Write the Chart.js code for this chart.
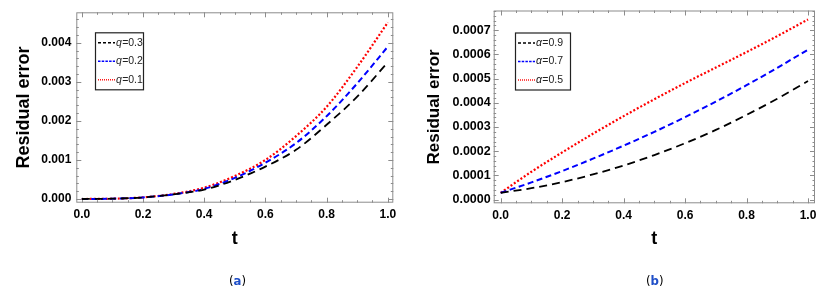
<!DOCTYPE html>
<html>
<head>
<meta charset="utf-8">
<script src="https://cdn.jsdelivr.net/npm/chart.js@4.4.0/dist/chart.umd.min.js"></script>
<style>
  body { margin: 0; background: #fff; width: 833px; height: 292px; overflow: hidden; position: relative; }
  .panel { position: absolute; top: 0; height: 292px; }
  .cap { position: absolute; top: 273px; font: 13px "DejaVu Sans Condensed", "DejaVu Sans", sans-serif; color: #000; }
  .cap b { color: #1f4fc8; }
</style>
</head>
<body>
<div class="panel" style="left:0;width:415px"><canvas id="chartA" width="415" height="292"></canvas></div>
<div class="panel" style="left:415px;width:418px"><canvas id="chartB" width="418" height="292"></canvas></div>
<div class="cap" style="left:229px">(<b>a</b>)</div>
<div class="cap" style="left:646px">(<b>b</b>)</div>
<script>
// time grid used in both panels
const tValues = [0, 0.1, 0.2, 0.3, 0.4, 0.5, 0.6, 0.7, 0.8, 0.9, 1.0];

// panel (a): residual error for different q
const labelsA = ['q=0.3', 'q=0.2', 'q=0.1'];
const errQ03 = [0, 0.000008, 0.00004, 0.00012, 0.00024, 0.00049, 0.00083, 0.00126, 0.0019, 0.00262, 0.0035];
const errQ02 = [0, 0.000008, 0.00004, 0.00012, 0.00026, 0.00054, 0.00093, 0.00143, 0.00212, 0.00296, 0.0039];
const errQ01 = [0, 0.000008, 0.000042, 0.00013, 0.00029, 0.00059, 0.001, 0.00161, 0.00236, 0.00338, 0.00452];
const yTicksA = [0, 0.001, 0.002, 0.003, 0.004];

// panel (b): residual error for different alpha
const labelsB = ['α=0.9', 'α=0.7', 'α=0.5'];
const errA09 = [0.000028, 0.000047, 0.000072, 0.000104, 0.000141, 0.000184, 0.000233, 0.000288, 0.00035, 0.000417, 0.00049];
const errA07 = [0.000028, 0.000071, 0.000118, 0.000169, 0.000223, 0.00028, 0.000341, 0.000405, 0.000473, 0.000545, 0.00062];
const errA05 = [0.000028, 0.000115, 0.000195, 0.000272, 0.000345, 0.000415, 0.000482, 0.000546, 0.00061, 0.000676, 0.000745];
const yTicksB = [0, 0.0001, 0.0002, 0.0003, 0.0004, 0.0005, 0.0006, 0.0007];

const xTicks = [0, 0.2, 0.4, 0.6, 0.8, 1.0];

const styles = [
  { color: '#000000', dash: [8, 5], width: 1.8, legendDash: [3, 2] },
  { color: '#0000ff', dash: [6, 3.5], width: 2, legendDash: [2.5, 1.2] },
  { color: '#ff0000', dash: [2, 2], width: 2.2, legendDash: [1, 1] }
];

function toPoints(ys) {
  return tValues.map((t, i) => ({ x: t, y: ys[i] }));
}

// Mathematica-like frame with inward ticks on all four sides
const framePlugin = {
  id: 'frame',
  beforeDatasetsDraw(chart, args, opts) {
    const { ctx, chartArea: a, scales } = chart;
    ctx.save();
    ctx.strokeStyle = '#8c8c8c';
    ctx.lineWidth = 1;
    ctx.strokeRect(a.left + 0.5, a.top + 0.5, a.right - a.left - 1, a.bottom - a.top - 1);
    const mark = (x1, y1, x2, y2) => { ctx.beginPath(); ctx.moveTo(x1, y1); ctx.lineTo(x2, y2); ctx.stroke(); };
    for (let v = 0; v <= scales.x.max + 1e-9; v += opts.xMinor) {
      const px = Math.round(scales.x.getPixelForValue(v)) + 0.5;
      const major = Math.abs(v / opts.xMajor - Math.round(v / opts.xMajor)) < 1e-6;
      const len = major ? 5 : 2.5;
      mark(px, a.bottom, px, a.bottom - len);
      mark(px, a.top, px, a.top + len);
    }
    for (let v = 0; v <= scales.y.max + 1e-12; v += opts.yMinor) {
      const py = Math.round(scales.y.getPixelForValue(v)) + 0.5;
      const major = Math.abs(v / opts.yMajor - Math.round(v / opts.yMajor)) < 1e-6;
      const len = major ? 5 : 2.5;
      mark(a.left, py, a.left + len, py);
      mark(a.right, py, a.right - len, py);
    }
    ctx.restore();
  }
};

// boxed legend drawn inside the plot area
const boxLegendPlugin = {
  id: 'boxLegend',
  afterDatasetsDraw(chart, args, opts) {
    const { ctx, chartArea: a } = chart;
    const x0 = a.left + opts.dx, y0 = a.top + opts.dy;
    ctx.save();
    ctx.fillStyle = '#fff';
    ctx.fillRect(x0, y0, opts.w, opts.h);
    ctx.strokeStyle = '#222';
    ctx.lineWidth = 1.2;
    ctx.strokeRect(x0 + 0.5, y0 + 0.5, opts.w, opts.h);
    chart.data.datasets.forEach((ds, i) => {
      const y = y0 + 10.5 + i * 18.5;
      ctx.strokeStyle = ds.borderColor;
      ctx.lineWidth = 1.4;
      ctx.setLineDash(styles[i].legendDash);
      ctx.beginPath();
      ctx.moveTo(x0 + 3, y);
      ctx.lineTo(x0 + opts.lineLen, y);
      ctx.stroke();
      ctx.setLineDash([]);
      ctx.fillStyle = '#222';
      ctx.textBaseline = 'middle';
      const sym = ds.label.charAt(0);
      const rest = ds.label.slice(1);
      let tx = x0 + opts.lineLen + 1;
      ctx.font = 'italic 10.5px "Liberation Sans", Arial, sans-serif';
      ctx.fillText(sym, tx, y);
      tx += ctx.measureText(sym).width + 0.3;
      ctx.font = '10.5px "Liberation Sans", Arial, sans-serif';
      ctx.fillText(rest, tx, y);
    });
    ctx.restore();
  }
};

function makeChart(id, labels, series, yTicks, cfg) {
  const datasets = series.map((ys, i) => ({
    label: labels[i],
    data: toPoints(ys),
    borderColor: styles[i].color,
    borderDash: styles[i].dash,
    borderWidth: styles[i].width,
    pointRadius: 0,
    fill: false,
    cubicInterpolationMode: 'monotone'
  }));
  return new Chart(document.getElementById(id).getContext('2d'), {
    type: 'line',
    data: { datasets: datasets },
    options: {
      responsive: false,
      animation: false,
      layout: { padding: cfg.padding },
      plugins: {
        legend: { display: false },
        tooltip: { enabled: false },
        frame: cfg.frame,
        boxLegend: cfg.legend
      },
      scales: {
        x: {
          type: 'linear',
          min: cfg.xMin,
          max: cfg.xMax,
          grid: { display: false, drawTicks: false },
          border: { display: false },
          afterBuildTicks: s => { s.ticks = xTicks.map(v => ({ value: v })); },
          afterFit: s => { s.height = cfg.xHeight; },
          ticks: {
            color: '#000',
            padding: 5,
            maxRotation: 0,
            font: { family: '"Liberation Sans", Arial, sans-serif', size: 12, weight: 'bold' },
            callback: v => v.toFixed(1)
          },
          title: {
            display: true,
            text: 't',
            color: '#000',
            padding: { top: 4, bottom: 3 },
            font: { family: '"Liberation Sans", Arial, sans-serif', size: 18, weight: 'bold' }
          }
        },
        y: {
          min: cfg.yMin,
          max: cfg.yMax,
          grid: { display: false, drawTicks: false },
          border: { display: false },
          afterBuildTicks: s => { s.ticks = yTicks.map(v => ({ value: v })); },
          afterFit: s => { s.width = cfg.yWidth; },
          ticks: {
            color: '#000',
            padding: cfg.yTickPad,
            font: { family: '"Liberation Sans", Arial, sans-serif', size: cfg.yTickSize, weight: 'bold' },
            callback: v => v.toFixed(cfg.decimals)
          },
          title: {
            display: true,
            text: 'Residual error',
            color: '#000',
            padding: { top: 0, bottom: 0 },
            font: { family: '"Liberation Sans", Arial, sans-serif', size: cfg.titleSize, weight: 'bold' }
          }
        }
      }
    },
    plugins: [framePlugin, boxLegendPlugin]
  });
}

makeChart('chartA', labelsA, [errQ03, errQ02, errQ01], yTicksA, {
  padding: { left: 13, right: 21.7, top: 12.3, bottom: 39 },
  yWidth: 63.3, xHeight: 50.3,
  xMin: -0.018, xMax: 1.018,
  yMin: -0.0000944, yMax: 0.00478,
  decimals: 3, yTickSize: 12, yTickPad: 5, titleSize: 18,
  frame: { xMajor: 0.2, xMinor: 0.05, yMajor: 0.001, yMinor: 0.0002 },
  legend: { dx: 18.7, dy: 20, w: 48, h: 57, lineLen: 20 }
});

makeChart('chartB', labelsB, [errA09, errA07, errA05], yTicksB, {
  padding: { left: 9, right: 18, top: 10, bottom: 39 },
  yWidth: 69.7, xHeight: 49.7,
  xMin: -0.0228, xMax: 1.0228,
  yMin: -0.0000155, yMax: 0.000782,
  decimals: 4, yTickSize: 12.5, yTickPad: 3, titleSize: 17,
  frame: { xMajor: 0.2, xMinor: 0.05, yMajor: 0.0001, yMinor: 0.00002 },
  legend: { dx: 21.3, dy: 22, w: 55, h: 57, lineLen: 20 }
});
</script>
</body>
</html>
